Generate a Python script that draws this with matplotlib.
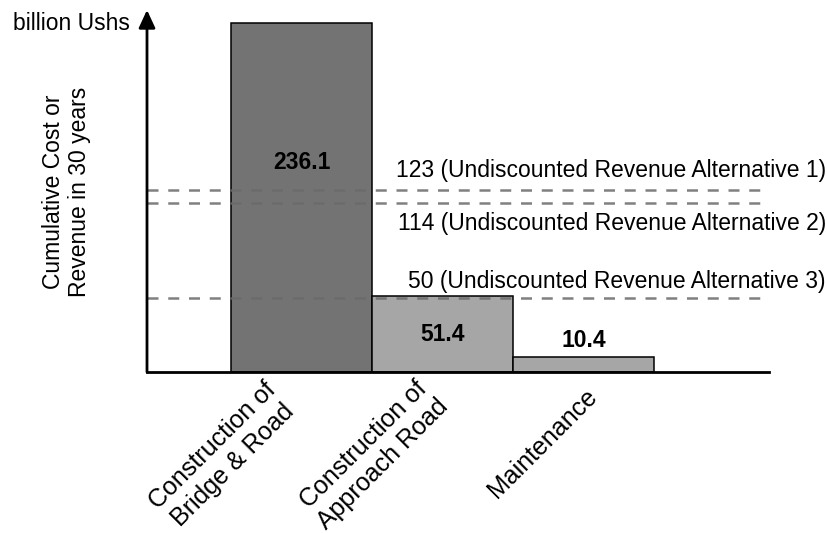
import matplotlib.pyplot as plt

plt.rcParams['font.family'] = ['Liberation Sans', 'DejaVu Sans']
plt.rcParams['font.size'] = 16.5

# cost components (billion Ushs)
categories = ['Construction of\nBridge & Road', 'Construction of\nApproach Road', 'Maintenance']
costs = [236.1, 51.4, 10.4]
cost_labels = ['236.1', '51.4', '10.4']
bar_colors = ['#737373', '#a6a6a6', '#a6a6a6']

# undiscounted revenue alternatives
revenues = [123, 114, 50]
revenue_labels = ['123 (Undiscounted Revenue Alternative 1)',
                  '114 (Undiscounted Revenue Alternative 2)',
                  '50 (Undiscounted Revenue Alternative 3)']

fig = plt.figure(figsize=(8.28, 5.33), dpi=100)
ax = fig.add_axes([147 / 828, 161 / 533, 622 / 828, 362 / 533])

x = list(range(len(costs)))
ax.bar(x, costs, width=1.0, color=bar_colors, edgecolor='black', linewidth=1.1, zorder=2)

x_left, x_right = -1.096, 3.316
ax.set_xlim(x_left, x_right)
ax.set_ylim(0, 244.9)

# revenue lines with their captions
caption_dy = [9.4, -19, 7.2]
for val, lab, dy in zip(revenues, revenue_labels, caption_dy):
    ax.plot([x_left, 3.273], [val, val], color='#6a6a6a', alpha=0.85, lw=1.8,
            linestyle=(0, (4.4, 3.9)), zorder=3, clip_on=False)
    ax.annotate(lab, xy=(1.0, val), xycoords=('axes fraction', 'data'),
                xytext=(41, dy), textcoords='offset points',
                ha='right', va='baseline', annotation_clip=False)

# value labels on the bars
label_pos = [0.6 * costs[0], costs[1] / 2, costs[2] + 11]
for xi, y, txt in zip(x, label_pos, cost_labels):
    ax.text(xi, y, txt, ha='center', va='center', fontweight='bold', zorder=4)

# rotated category labels
label_offsets = [(-27, -4), (-19, -2), (1, -9)]
for xi, cat, (dx, dy) in zip(x, categories, label_offsets):
    ax.annotate(cat, xy=(xi, 0), xycoords=('data', 'axes fraction'),
                xytext=(dx, dy), textcoords='offset points', fontsize=18,
                rotation=45, ha='right', va='top', rotation_mode='anchor',
                multialignment='center', annotation_clip=False)

for side in ['top', 'right', 'left']:
    ax.spines[side].set_visible(False)
ax.spines['bottom'].set_linewidth(2)
ax.tick_params(left=False, bottom=False, labelleft=False, labelbottom=False)

# y axis drawn as an arrow
ax.annotate('', xy=(0, 1), xytext=(0, 0), xycoords='axes fraction',
            arrowprops=dict(arrowstyle='-|>,head_length=0.54,head_width=0.25',
                            mutation_scale=20, lw=2, color='black',
                            shrinkA=0, shrinkB=0))

fig.text(13 / 828, 1 - 30 / 533, 'billion Ushs', ha='left', va='baseline')
fig.text(66.5 / 828, 1 - 192 / 533, 'Cumulative Cost or\nRevenue in 30 years',
         rotation=90, ha='center', va='center', multialignment='center')

fig.savefig('out.png', dpi=100)
